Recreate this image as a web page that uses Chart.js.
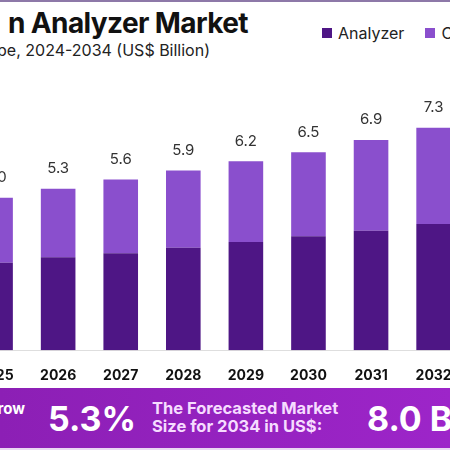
<!DOCTYPE html>
<html>
<head>
<meta charset="utf-8">
<script src="https://cdn.jsdelivr.net/npm/chart.js@4.4.1/dist/chart.umd.min.js"></script>
<style>
  html, body { margin: 0; padding: 0; }
  body { width: 450px; height: 450px; overflow: hidden; position: relative; background: #fff; font-family: Inter, "Noto Sans", sans-serif; }
  .topline { position: absolute; left: 0; top: 0; width: 450px; height: 2px; background: #8d78a8; }
  .title { position: absolute; right: 202px; top: 6px; white-space: nowrap; font-size: 28px; font-weight: 700; color: #111; letter-spacing: -0.6px; }
  .subtitle { position: absolute; right: 240px; top: 40px; white-space: nowrap; font-size: 16px; color: #222; }
  #legend { position: absolute; left: 322px; top: 23px; display: flex; white-space: nowrap; font-size: 16px; color: #222; }
  #legend span.item { display: flex; align-items: center; margin-right: 21px; }
  #legend span.box { width: 10px; height: 10px; margin-right: 6px; display: inline-block; }
  #wrap { position: absolute; left: -102px; top: 60px; width: 696px; height: 341px; }
  .banner { position: absolute; left: 0; top: 388px; width: 450px; height: 60px; background: linear-gradient(to right, #8c1fb5, #9d25c9); color: #fff; overflow: hidden; }
  .banner div { position: absolute; white-space: nowrap; font-weight: 700; }
  .under { position: absolute; left: 0; top: 448px; width: 450px; height: 2px; background: #e9d8f2; }
</style>
</head>
<body>
<div class="topline"></div>
<div class="title">n Analyzer Market</div>
<div class="subtitle">pe, 2024-2034 (US$ Billion)</div>
<div id="legend"></div>
<div id="wrap"><canvas id="marketChart" width="696" height="341"></canvas></div>
<div class="banner">
  <div style="right:425px; top:11px; font-size:15px;">row</div>
  <div style="left:48px; top:10px; font-size:34px;">5.3%</div>
  <div style="left:152px; top:11px; font-size:16.5px; line-height:18px; color:#f6dcff;">The Forecasted Market<br>Size for 2034 in US$:</div>
  <div style="left:367px; top:10px; font-size:34px;">8.0 Bn</div>
</div>
<div class="under"></div>
<script>
let years = ['2024', '2025', '2026', '2027', '2028', '2029', '2030', '2031', '2032', '2033', '2034'];
let analyzer = [2.75, 2.87, 3.05, 3.18, 3.36, 3.55, 3.74, 3.92, 4.14, 4.30, 4.50];
let consumables = [2.05, 2.13, 2.25, 2.42, 2.54, 2.65, 2.76, 2.98, 3.16, 3.30, 3.50];

// totals above each stacked bar
let totalLabels = {
	id: 'totalLabels',
	afterDatasetsDraw(chart) {
		let ctx = chart.ctx;
		let top = chart.getDatasetMeta(chart.data.datasets.length - 1);
		ctx.save();
		ctx.font = '15px Inter, "Noto Sans", sans-serif';
		ctx.fillStyle = '#333';
		ctx.textAlign = 'center';
		ctx.textBaseline = 'middle';
		top.data.forEach((bar, i) => {
			let sum = chart.data.datasets.reduce((s, d) => s + d.data[i], 0);
			ctx.fillText(sum.toFixed(1), bar.x, bar.y - 20);
		});
		ctx.restore();
	}
};

let ctx = document.getElementById('marketChart').getContext('2d');

let marketChart = new Chart(ctx, {
	type: 'bar',
	data: {
		labels: years,
		datasets: [{
			label: 'Analyzer',
			data: analyzer,
			backgroundColor: '#4e1685',
			barPercentage: 0.553,
			categoryPercentage: 1
		}, {
			label: 'Consumables',
			data: consumables,
			backgroundColor: '#8a4fcd',
			barPercentage: 0.553,
			categoryPercentage: 1
		}]
	},
	options: {
		responsive: false,
		animation: false,
		layout: { padding: { top: 16, left: 0, right: 0, bottom: 0 } },
		scales: {
			x: {
				stacked: true,
				grid: { display: false, drawTicks: false },
				border: { color: '#dedede' },
				ticks: {
					color: '#111',
					padding: 17,
					font: { family: 'Inter', size: 14, weight: 'bold' }
				}
			},
			y: {
				stacked: true,
				display: false,
				min: 0,
				max: 9
			}
		},
		plugins: {
			legend: { display: false },
			tooltip: { enabled: false }
		}
	},
	plugins: [totalLabels]
});

// html legend from the datasets
let legend = document.getElementById('legend');
marketChart.data.datasets.forEach(d => {
	let item = document.createElement('span');
	item.className = 'item';
	item.innerHTML = '<span class="box" style="background:' + d.backgroundColor + '"></span>' + d.label;
	legend.appendChild(item);
});
</script>
</body>
</html>
